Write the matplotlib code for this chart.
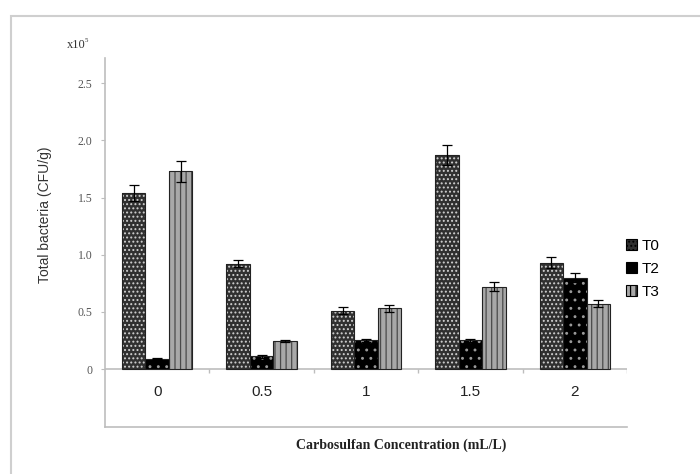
import numpy as np
import matplotlib
matplotlib.use("Agg")
import matplotlib.pyplot as plt
from matplotlib.patches import Rectangle, Patch

# data (x10^5 CFU/g)
concs = ["0", "0.5", "1", "1.5", "2"]
t0 = [1.54, 0.92, 0.51, 1.87, 0.93]
t2 = [0.09, 0.11, 0.25, 0.25, 0.80]
t3 = [1.73, 0.245, 0.53, 0.72, 0.57]
t0_err = [0.07, 0.03, 0.03, 0.09, 0.05]
t2_err = [0.005, 0.01, 0.01, 0.01, 0.04]
t3_err = [0.09, 0.01, 0.03, 0.04, 0.03]
yticks = [0, 0.5, 1.0, 1.5, 2.0, 2.5]
ytick_labels = ["0", "0.5", "1.0", "1.5", "2.0", "2.5"]

plt.rcParams["hatch.linewidth"] = 0.9

fig = plt.figure(figsize=(7, 4.74), dpi=100)
ax = fig.add_axes([0.15, 0.0992, 0.7457, 0.7784])

# outer frame
fig.patches.append(Rectangle((0.0157, -0.1), 1.2, 1.066, transform=fig.transFigure,
                             fill=False, edgecolor="#cfcfcf", lw=1.5))

x = np.arange(len(concs))
w = 0.225
series = [
    ("T0", t0, t0_err, "#303030", "....", "#d0d0d0"),
    ("T2", t2, t2_err, "black", "..", "#9a9a9a"),
    ("T3", t3, t3_err, "#a8a8a8", "|||", "#4a4a4a"),
]
handles = []
for i, (name, vals, errs, face, hatch, hcol) in enumerate(series):
    pos = x + (i - 1) * w
    ax.bar(pos, vals, w, color=face, edgecolor="none", zorder=2)
    ax.bar(pos, vals, w, fill=False, hatch=hatch, edgecolor=hcol, lw=0, zorder=3)
    ax.bar(pos, vals, w, fill=False, edgecolor="#222222", lw=0.8, zorder=4)
    ax.errorbar(pos, vals, yerr=errs, fmt="none", ecolor="black", elinewidth=0.9,
                capsize=3.5, capthick=0.9, zorder=5)
    handles.append(Patch(facecolor=face, edgecolor="black", hatch=hatch, lw=0.8))

ax.set_xlim(-0.5, len(concs) - 0.5)
ax.set_ylim(-0.507, 2.72)

for s in ["top", "right"]:
    ax.spines[s].set_visible(False)
for s in ["left", "bottom"]:
    ax.spines[s].set_color("#bdbdbd")
    ax.spines[s].set_linewidth(1.2)

# zero line and category divider ticks
ax.axhline(0, color="#bdbdbd", lw=1.2, zorder=1)
ax.vlines(x + 0.5, -0.035, 0, color="#bdbdbd", lw=1.0)

ax.set_yticks(yticks)
ax.set_yticklabels(ytick_labels, family="Liberation Serif", fontsize=8.5, color="#555555")
ax.tick_params(axis="y", length=3, color="#bdbdbd", pad=6)
ax.set_xticks([])

for xi, lab in zip(x, concs):
    ax.text(xi, -0.2, lab, ha="center", va="center", fontsize=11,
            family="Liberation Sans", color="#222222")

fig.text(0.064, 0.546, "Total bacteria (CFU/g)", rotation=90, ha="center", va="center",
         fontsize=10, family="Liberation Sans", color="#333333")
fig.text(0.573, 0.061, "Carbosulfan Concentration (mL/L)", ha="center", va="center",
         fontsize=10, family="Liberation Serif", weight="bold", color="#222222")
fig.text(0.096, 0.905, "x10", ha="left", va="center", fontsize=9,
         family="Liberation Serif", color="#333333")
fig.text(0.121, 0.915, "5", ha="left", va="center", fontsize=5,
         family="Liberation Serif", color="#333333")

fig.legend(handles, ["T0", "T2", "T3"], loc="center left",
           bbox_to_anchor=(0.875, 0.433), frameon=False,
           handlelength=0.7, handleheight=0.7, handletextpad=0.3, labelspacing=0.6,
           prop={"family": "Liberation Sans", "size": 11})

fig.savefig("out.png", dpi=100)
